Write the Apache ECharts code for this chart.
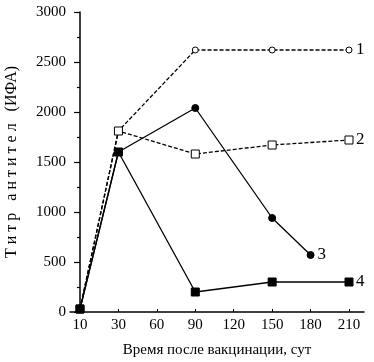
<!DOCTYPE html>
<html>
<head>
<meta charset="utf-8">
<script src="https://cdn.jsdelivr.net/npm/echarts@6/dist/echarts.min.js"></script>
<style>
	html, body {margin: 0; padding: 0; background: #fff;}
	#chart {width: 374px; height: 362px;}
</style>
</head>
<body>
<div id="chart"></div>
<script>
// days after vaccination (evenly spaced on the axis, like categories)
var days = ['10', '30', '60', '90', '120', '150', '180', '210'];
// antibody titre, null where no measurement
var curve1 = [30, 1810, null, 2620, null, 2620, null, 2620];
var curve2 = [30, 1810, null, 1580, null, 1670, null, 1720];
var curve3 = [30, 1600, null, 2040, null, 940, 570, null];
var curve4 = [30, 1600, null, 200, null, 300, null, 300];
var names = ['1', '2', '3', '4'];
var yTicks = [0, 500, 1000, 1500, 2000, 2500, 3000];

function pairs(arr){
	var out = [];
	for (var i=0; i<arr.length; i++){
		if (arr[i] !== null) out.push([i, arr[i]]);
	}
	return out;
}

var font = 'Liberation Serif';

function mkSeries(name, arr, symbol, size, filled, dashed){
	return {
		name: name,
		type: 'line',
		data: pairs(arr),
		symbol: symbol,
		symbolSize: size,
		showAllSymbol: true,
		lineStyle: {color: '#000', width: 1.3, type: dashed ? [4, 2] : 'solid'},
		itemStyle: {color: filled ? '#000' : '#fff', borderColor: '#000', borderWidth: 1},
		endLabel: {show: true, formatter: '{a}', color: '#000', fontFamily: font, fontSize: 17, distance: 7},
		emphasis: {disabled: true},
		animation: false
	};
}

var chart = echarts.init(document.getElementById('chart'));
var option = {
	backgroundColor: '#fff',
	grid: {left: 70, right: 10, top: 12, bottom: 50, outerBoundsMode: 'none', containLabel: false},
	xAxis: {
		type: 'value',
		min: -0.26,
		max: 7.39,
		name: 'Время после вакцинации, сут',
		nameLocation: 'middle',
		nameGap: 31,
		nameTextStyle: {color: '#000', fontFamily: font, fontSize: 15},
		axisLine: {lineStyle: {color: '#000', width: 1.5}},
		axisTick: {show: true, inside: true, length: 3, customValues: [0,1,2,3,4,5,6,7], lineStyle: {color: '#000'}},
		axisLabel: {
			customValues: [0,1,2,3,4,5,6,7],
			color: '#000', fontFamily: font, fontSize: 15, margin: 6,
			formatter: function(v){ return days[Math.round(v)]; }
		},
		splitLine: {show: false}
	},
	yAxis: {
		type: 'value',
		min: yTicks[0],
		max: yTicks[yTicks.length-1],
		interval: 500,
		name: 'Т и т р   а н т и т е л   (ИФА)',
		nameLocation: 'middle',
		nameGap: 50,
		nameTextStyle: {color: '#000', fontFamily: font, fontSize: 16},
		axisLine: {show: true, lineStyle: {color: '#000', width: 1.5}},
		axisTick: {show: true, length: 6, lineStyle: {color: '#000', width: 1.2}},
		minorTick: {show: true, splitNumber: 2, length: 3, lineStyle: {color: '#000', width: 1.2}},
		axisLabel: {
			color: '#000', fontFamily: font, fontSize: 15, margin: 4,
			formatter: function(v){ return String(v); }
		},
		splitLine: {show: false}
	},
	series: [
		mkSeries(names[0], curve1, 'circle', 6, false, true),
		mkSeries(names[1], curve2, 'rect', 8, false, true),
		mkSeries(names[2], curve3, 'circle', 7, true, false),
		mkSeries(names[3], curve4, 'rect', 8, true, false)
	]
};
chart.setOption(option);
</script>
</body>
</html>
